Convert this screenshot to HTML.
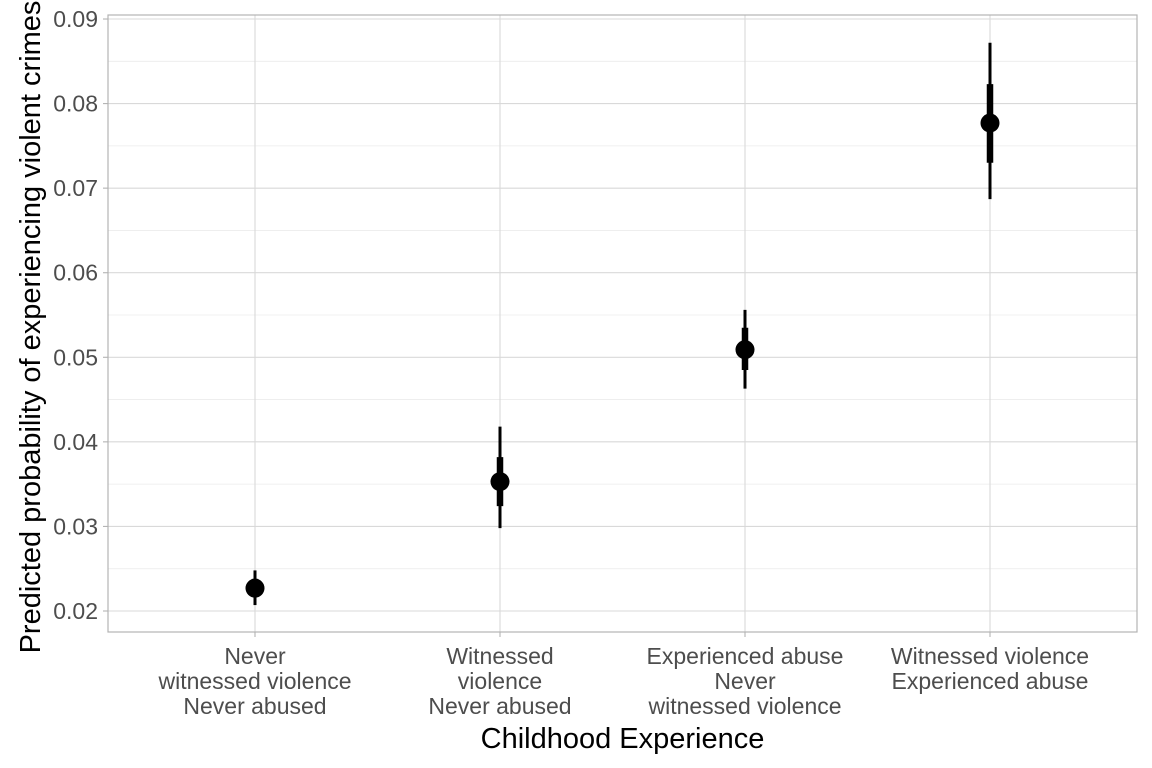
<!DOCTYPE html>
<html><head><meta charset="utf-8"><style>
body{margin:0;background:#fff;}
svg{display:block;font-family:"Liberation Sans",sans-serif;}
</style></head><body>
<svg id="chart" width="1152" height="768"></svg>
<script>
const categories=[["Never","witnessed violence","Never abused"],["Witnessed","violence","Never abused"],["Experienced abuse","Never","witnessed violence"],["Witnessed violence","Experienced abuse"]];
const estimates=[0.0227,0.0353,0.0509,0.0777];
const innerLow=[0.0217,0.0324,0.0485,0.0730];
const innerHigh=[0.0238,0.0382,0.0535,0.0823];
const outerLow=[0.0207,0.0298,0.0463,0.0687];
const outerHigh=[0.0248,0.0418,0.0556,0.0872];
const yTicks=[0.02,0.03,0.04,0.05,0.06,0.07,0.08,0.09];
const NS="http://www.w3.org/2000/svg";
const svg=document.getElementById('chart');
const L=108,R=1137,T=15,B=632;
const y=v=>611-(v-0.02)*8457;
const x=i=>L+(i+0.6)*245;
function mk(tag,attrs,parent){const e=document.createElementNS(NS,tag);for(const k in attrs)e.setAttribute(k,attrs[k]);(parent||svg).appendChild(e);return e;}
const grid=mk('g',{});


for(let i=0;i<yTicks.length-1;i++){const m=(yTicks[i]+yTicks[i+1])/2;mk('line',{x1:L,x2:R,y1:y(m),y2:y(m),stroke:'#ebebeb','stroke-width':0.8},grid);}
yTicks.forEach(t=>mk('line',{x1:L,x2:R,y1:y(t),y2:y(t),stroke:'#d9d9d9','stroke-width':1.1},grid));
categories.forEach((c,i)=>mk('line',{x1:x(i),x2:x(i),y1:T,y2:B,stroke:'#d9d9d9','stroke-width':1.1},grid));
const panel=mk('rect',{x:L,y:T,width:R-L,height:B-T,fill:'none',stroke:'#b3b3b3','stroke-width':1.2});


yTicks.forEach(t=>{
 mk('line',{x1:L-5,x2:L,y1:y(t),y2:y(t),stroke:'#b3b3b3','stroke-width':1.1});
 const tx=mk('text',{x:L-10,y:y(t)+8,'text-anchor':'end','font-size':23,fill:'#4d4d4d'});
 tx.textContent=t.toFixed(2);
 
 
});
categories.forEach((c,i)=>{
 mk('line',{x1:x(i),x2:x(i),y1:B,y2:B+5,stroke:'#b3b3b3','stroke-width':1.1});
 const tx=mk('text',{'text-anchor':'middle','font-size':23,fill:'#4d4d4d'});
 
 
 c.forEach((line,j)=>{const ts=mk('tspan',{x:x(i),y:664+j*25},tx);ts.textContent=line;});
 const g=mk('g',{});
 
 
 mk('line',{x1:x(i),x2:x(i),y1:y(outerLow[i]),y2:y(outerHigh[i]),stroke:'#000','stroke-width':3},g);
 mk('line',{x1:x(i),x2:x(i),y1:y(innerLow[i]),y2:y(innerHigh[i]),stroke:'#000','stroke-width':6.5},g);
 mk('circle',{cx:x(i),cy:y(estimates[i]),r:9.5,fill:'#000'},g);
});
const xt=mk('text',{x:(L+R)/2,y:748,'text-anchor':'middle','font-size':29,fill:'#000'});
xt.textContent='Childhood Experience';


const yt=mk('text',{x:0,y:0,'text-anchor':'middle','font-size':29,fill:'#000',transform:'translate(40,327) rotate(-90)'});
yt.textContent='Predicted probability of experiencing violent crimes';


</script>
</body></html>
